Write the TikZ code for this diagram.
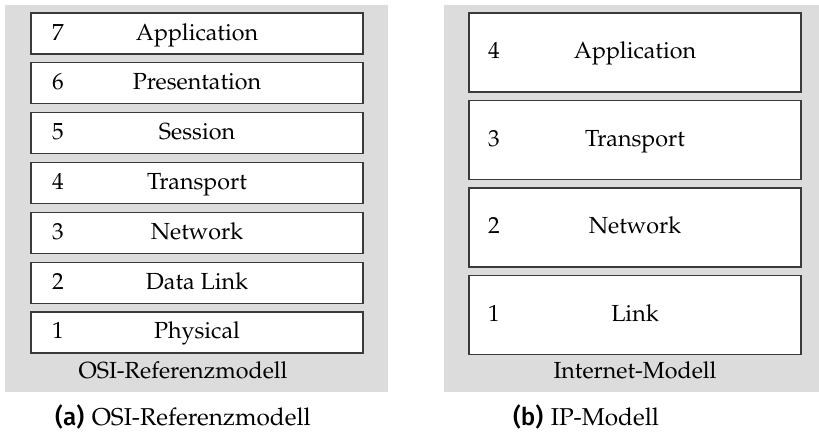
\documentclass[tikz,border=0pt]{standalone}
\usepackage[T1]{fontenc}
\usepackage{fontspec}
\newfontfamily\capsans{Fira Sans}[UprightFont={* Medium}]
\newcommand{\pala}{\fontencoding{T1}\fontfamily{ppl}\selectfont}
\definecolor{panelgray}{HTML}{DCDCDC}
\definecolor{boxline}{HTML}{3A3A3A}
\tikzset{
  panel/.style={fill=panelgray, draw=none},
  layerbox/.style={draw=boxline, line width=0.55pt, fill=white},
  layertext/.style={font=\pala\fontsize{10.4}{12.5}\selectfont, inner sep=0pt, anchor=base},
  paneltitle/.style={font=\pala\fontsize{10.4}{12.5}\selectfont, inner sep=0pt, anchor=base},
  captext/.style={inner sep=0pt, anchor=base},
}
\begin{document}
\begin{tikzpicture}[x=0.447pt, y=-0.447pt]
\useasboundingbox (0,0) rectangle (819,431);

% ---- left panel: OSI reference model ----
\fill[panel] (5,5) rectangle (388,392);
\foreach \n/\lab [count=\i from 0] in {7/Application,6/Presentation,5/Session,4/Transport,3/Network,2/Data Link,1/Physical}{
  \pgfmathsetmacro{\top}{13+49.83*\i}
  \draw[layerbox] (31,\top) rectangle (363,\top+41);
  \node[layertext] (osin\n) at (58,\top+27) {\n};
  \node[layertext] (osil\n) at (197,\top+27) {\lab};
}
\node[paneltitle] (osititle) at (183,378) {OSI-Referenzmodell};
\node[captext] (capa) at (183,425) {{\capsans\fontsize{10.9}{13}\selectfont (a)} \pala\fontsize{10.9}{13}\selectfont OSI-Referenzmodell};

% ---- right panel: Internet model ----
\fill[panel] (444,5) rectangle (826,392);
\foreach \n/\lab [count=\i from 0] in {4/Application,3/Transport,2/Network,1/Link}{
  \pgfmathsetmacro{\top}{13+87.5*\i}
  \draw[layerbox] (469,\top) rectangle (801,\top+79);
  \node[layertext] (ipn\n) at (494,\top+45.5) {\n};
  \node[layertext] (ipl\n) at (635,\top+45.5) {\lab};
}
\node[paneltitle] (iptitle) at (635,378) {Internet-Modell};
\node[captext] (capb) at (586,425) {{\capsans\fontsize{10.9}{13}\selectfont (b)} \pala\fontsize{10.9}{13}\selectfont IP-Modell};
\end{tikzpicture}
\end{document}
